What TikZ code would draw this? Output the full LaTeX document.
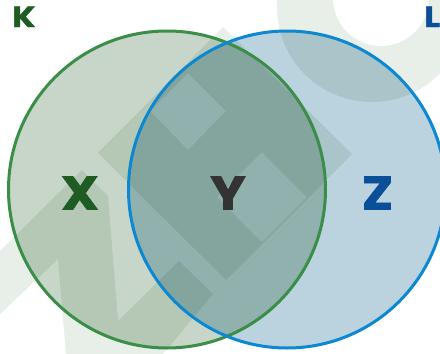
\documentclass[tikz,border=0pt]{standalone}
\usepackage{fontspec}
\setmainfont{Poppins}
\newfontfamily\hv{Poppins}[BoldFeatures={FakeBold=1.5}]
\definecolor{wm}{HTML}{E7EFE8}
\definecolor{cg}{HTML}{C7D6C8}
\definecolor{cb}{HTML}{BBD3DF}
\definecolor{sg}{HTML}{3A8E47}
\definecolor{sb}{HTML}{0C88D2}
\definecolor{tg}{HTML}{1E5C23}
\definecolor{ty}{HTML}{333333}
\definecolor{tb}{HTML}{0A4F97}
\tikzset{
  bigl/.style={anchor=base, inner sep=0pt, xscale=1.12, font=\hv\bfseries\fontsize{47}{47}\selectfont},
  setl/.style={anchor=base west, inner sep=0pt, xscale=1.15, font=\hv\bfseries\fontsize{29}{29}\selectfont},
  ring/.style={line width=3pt},
}
\begin{document}
\begin{tikzpicture}[x=1pt,y=-1pt]
\useasboundingbox (0,0) rectangle (440,354);
\clip (0,0) rectangle (440,354);
\fill[white] (0,0) rectangle (440,354);
% watermark
\fill[wm] (372,7) circle (95);
\fill[white] (381,-2) circle (48);
\fill[wm,even odd rule] (223,27) -- (352,154) -- (226,280) -- (98,153) -- cycle
  (188,73) -- (226,111) -- (188,150) -- (150,111) -- cycle
  (262,152) -- (307,197) -- (262,242) -- (217,197) -- cycle;
\fill[wm] (0,251) -- (82,170) -- (108,196) -- (118,321) -- (179,261) -- (213,294)
  -- (163,354) -- (66,354) -- (58,259) -- (0,314) -- cycle;
% circles
\fill[cg, blend mode=multiply] (167,189.5) circle (158.5);
\fill[cb, blend mode=multiply] (287,189.5) circle (158.5);
\draw[sg, ring] (167,189.5) circle (158.5);
\draw[sb, ring] (287,189.5) circle (158.5);
% labels
\node[setl, text=tg] (k) at (12,27) {K};
\node[setl, text=tb] (l) at (424,27) {L};
\node[bigl, text=tg] (x) at (80,209.5) {X};
\node[bigl, text=ty] (y) at (228,209.5) {Y};
\node[bigl, text=tb] (z) at (377.5,209.5) {Z};
\end{tikzpicture}
\end{document}
